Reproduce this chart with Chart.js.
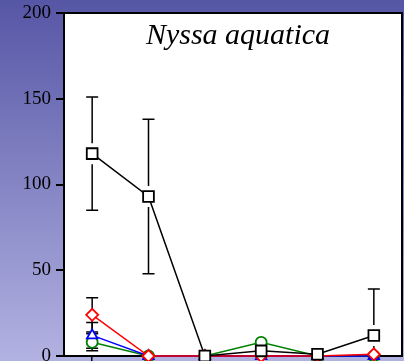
<!DOCTYPE html>
<html><head><meta charset="utf-8">
<script src="https://cdn.jsdelivr.net/npm/chart.js@4/dist/chart.umd.min.js"></script>
<style>html,body{margin:0;padding:0;background:#8888c8;overflow:hidden}</style>
</head><body><canvas id="c" width="404" height="361"></canvas>
<script>
const categories = ['1', '2', '3', '4', '5', '6'];
const blackValues = [118, 93, 0, 3, 1, 12];
const blackErrors = [33, 45, 0, 0, 0, 27];
const greenValues = [8, 0, 0, 8, 0, 0];
const greenErrors = [5, 0, 0, 0, 0, 0];
const blueValues = [12, 0, 0, 0, 0, 0];
const blueErrors = [7.5, 0, 0, 0, 0, 0];
const redValues = [24, 0, 0, 0, 0, 1];
const redErrors = [10, 0, 0, 0, 0, 0];
const yTicks = [0, 50, 100, 150, 200];
const titleText = 'Nyssa aquatica';

const bgPlugin = {
  id: 'bg',
  beforeDraw(chart) {
    const ctx = chart.ctx, a = chart.chartArea;
    const g = ctx.createLinearGradient(0, 0, 0, chart.height);
    g.addColorStop(0, '#5656a6');
    g.addColorStop(1, '#b2b2e2');
    ctx.save();
    ctx.fillStyle = g;
    ctx.fillRect(0, 0, chart.width, chart.height);
    ctx.fillStyle = '#ffffff';
    ctx.fillRect(a.left, a.top, a.right - a.left, a.bottom - a.top);
    ctx.restore();
  },
  beforeDatasetsDraw(chart) {
    const ctx = chart.ctx, a = chart.chartArea;
    ctx.save();
    ctx.strokeStyle = '#000';
    ctx.lineWidth = 2;
    ctx.strokeRect(a.left, a.top, a.right - a.left, a.bottom - a.top);
    ctx.fillStyle = '#000';
    ctx.font = 'italic 30px "Liberation Serif", "Times New Roman", serif';
    ctx.textAlign = 'center';
    ctx.textBaseline = 'alphabetic';
    ctx.fillText(titleText, 238, 44);
    const ys = chart.scales.y;
    chart.data.datasets.forEach((ds, di) => {
      const meta = chart.getDatasetMeta(di);
      ds.errors.forEach((e, i) => {
        if (!e) return;
        const p = meta.data[i];
        const v = ds.data[i];
        const x = p.x, y = p.y;
        const yt = ys.getPixelForValue(v + e);
        const ybRaw = ys.getPixelForValue(v - e);
        const yb = Math.min(ybRaw, a.bottom);
        const gap = ds.errGap;
        ctx.strokeStyle = '#000';
        ctx.lineWidth = 1.5;
        ctx.beginPath();
        ctx.moveTo(x, yt); ctx.lineTo(x, y - gap);
        ctx.moveTo(x, y + gap); ctx.lineTo(x, yb);
        ctx.moveTo(x - 6, yt); ctx.lineTo(x + 6, yt);
        if (ybRaw <= a.bottom) { ctx.moveTo(x - 6, yb); ctx.lineTo(x + 6, yb); }
        ctx.stroke();
      });
    });
    ctx.restore();
  }
};

function mk(label, data, errors, color, style, radius, order, gap) {
  return {
    label, data, errors, errGap: gap,
    borderColor: color, backgroundColor: '#ffffff',
    pointBorderColor: color, pointBackgroundColor: '#ffffff',
    pointStyle: style, pointRadius: radius, pointBorderWidth: 1.8,
    borderWidth: 1.5, tension: 0, order, clip: false
  };
}

new Chart(document.getElementById('c'), {
  type: 'line',
  data: {
    labels: categories,
    datasets: [
      mk('black', blackValues, blackErrors, '#000000', 'rect', 7.6, 0, 10.5),
      mk('red', redValues, redErrors, '#ff0000', 'rectRot', 6, 1, 0),
      mk('blue', blueValues, blueErrors, '#0000ff', 'triangle', 6, 2, 0),
      mk('green', greenValues, greenErrors, '#008000', 'circle', 5.5, 3, 0)
    ]
  },
  options: {
    responsive: false,
    devicePixelRatio: 1,
    animation: false,
    layout: { autoPadding: false, padding: { top: 13, right: 2, left: 0, bottom: 0 } },
    plugins: { legend: { display: false }, tooltip: { enabled: false }, title: { display: false } },
    scales: {
      x: {
        type: 'category',
        offset: true,
        grid: { offset: false, drawOnChartArea: false, drawTicks: true, tickLength: 5, color: '#000', lineWidth: 1.5 },
        border: { display: true, color: '#000', width: 2 },
        ticks: { display: false },
        afterFit(s) { s.height = 5; s.paddingLeft = 0; s.paddingRight = 0; s.paddingTop = 0; s.paddingBottom = 0; }
      },
      y: {
        min: 0, max: 200,
        afterBuildTicks(s) { s.ticks = yTicks.map(v => ({ value: v })); },
        grid: { drawOnChartArea: false, drawTicks: true, tickLength: 8, color: '#000', lineWidth: 2 },
        border: { display: true, color: '#000', width: 2 },
        ticks: { color: '#000', padding: 5, font: { family: '"Liberation Serif", "Times New Roman", serif', size: 19 } },
        afterFit(s) { s.width = 64; s.paddingLeft = 0; s.paddingRight = 0; s.paddingTop = 0; s.paddingBottom = 0; }
      }
    }
  },
  plugins: [bgPlugin]
});
</script>
</body></html>
